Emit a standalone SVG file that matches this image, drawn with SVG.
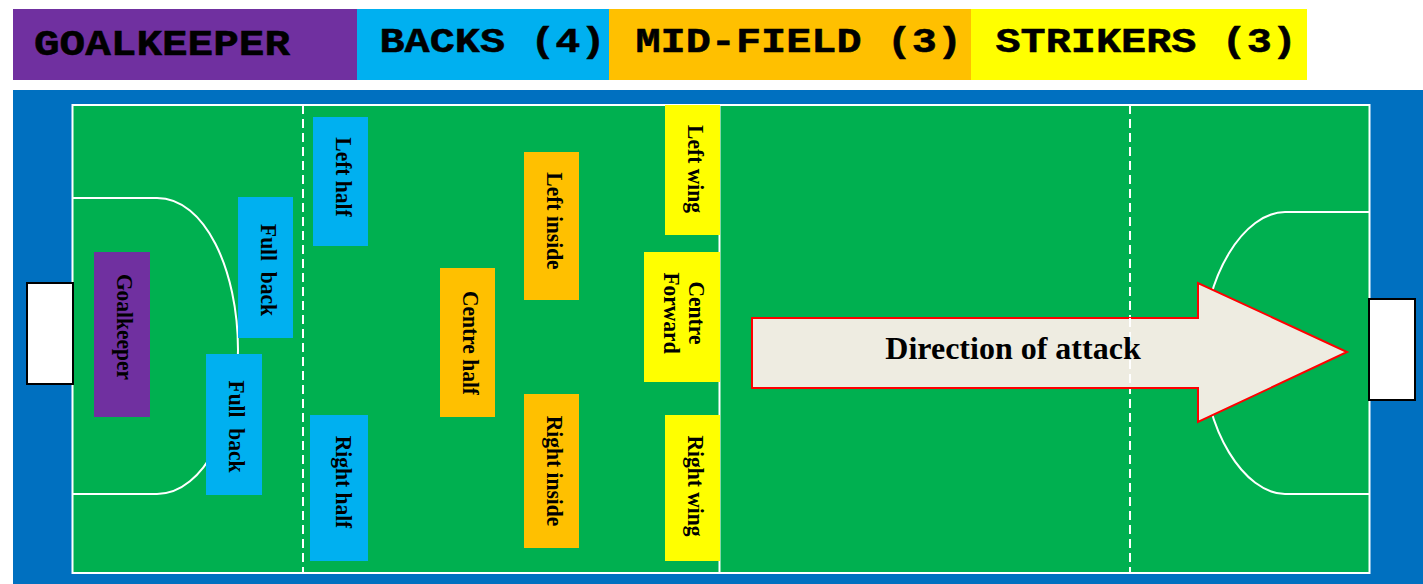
<svg xmlns="http://www.w3.org/2000/svg" width="1423" height="584" viewBox="0 0 1423 584">
<style>
.hd{font-family:"Liberation Mono",monospace;font-weight:bold;font-size:36px;fill:#000;stroke:#000;stroke-width:.5px}
.lb{font-family:"Liberation Serif",serif;font-weight:bold;font-size:21.5px;fill:#000;text-anchor:middle}
.ln{fill:none;stroke:#fff;stroke-width:2}
.ds{fill:none;stroke:#fff;stroke-width:2;stroke-dasharray:9 5}
.goal{fill:#fff;stroke:#000;stroke-width:2}
.gk{fill:#7030a0}.bk{fill:#00b0f0}.mf{fill:#ffc000}.st{fill:#ff0}
</style>
<rect width="1423" height="584" fill="#fff"/>
<g id="legend">
<rect class="gk" x="13" y="9" width="344" height="71"/>
<rect class="bk" x="357" y="9" width="252" height="71"/>
<rect class="mf" x="609" y="9" width="362" height="71"/>
<rect class="st" x="971" y="9" width="336" height="71"/>
<text class="hd" transform="translate(34,55) scale(1.185,1)">GOALKEEPER</text>
<text class="hd" transform="translate(379.500,52) scale(1.163,1)">BACKS (4)</text>
<text class="hd" transform="translate(635.500,52) scale(1.163,1)">MID-FIELD (3)</text>
<text class="hd" transform="translate(995.500,52) scale(1.163,1)">STRIKERS (3)</text>
</g>
<g id="pitch">
<rect x="13" y="90" width="1410" height="494" fill="#0070c0"/>
<rect x="72.500" y="105" width="1297" height="468" fill="#00b050" stroke="#fff" stroke-width="2"/>
<path class="ds" d="M303 105V573M1130 105V573"/>
<path class="ln" d="M719.500 105V573"/>
<path class="ln" d="M73 198H157C205 198 238 270 238 350C238 420 205 494 157 494H73"/>
<path class="ln" d="M1370 212H1285C1245 212 1203 275 1203 353C1203 430 1245 494 1285 494H1370"/>
</g>
<g id="goal-left"><rect class="goal" x="27" y="283" width="46" height="101"/></g>
<g id="goal-right"><rect class="goal" x="1369" y="299" width="46" height="101"/></g>
<g id="goalkeeper"><rect class="gk" x="94" y="252" width="56" height="165"/><text class="lb" transform="translate(117,327) rotate(90) scale(1,1.1)">Goalkeeper</text></g>
<g id="full-back-1"><rect class="bk" x="238" y="197" width="55" height="141"/><text class="lb" transform="translate(260.500,270) rotate(90) scale(1,1.1)" xml:space="preserve">Full  back</text></g>
<g id="full-back-2"><rect class="bk" x="206" y="354" width="56" height="141"/><text class="lb" transform="translate(229,426.500) rotate(90) scale(1,1.1)" xml:space="preserve">Full  back</text></g>
<g id="left-half"><rect class="bk" x="313" y="117" width="55" height="129"/><text class="lb" transform="translate(336,177) rotate(90) scale(1,1.1)">Left half</text></g>
<g id="right-half"><rect class="bk" x="310" y="415" width="58" height="146"/><text class="lb" transform="translate(336,482) rotate(90) scale(1,1.1)">Right half</text></g>
<g id="centre-half"><rect class="mf" x="440" y="268" width="55" height="149"/><text class="lb" transform="translate(463,343) rotate(90) scale(1,1.1)">Centre half</text></g>
<g id="left-inside"><rect class="mf" x="524" y="152" width="55" height="148"/><text class="lb" transform="translate(547,221) rotate(90) scale(1,1.1)">Left inside</text></g>
<g id="right-inside"><rect class="mf" x="524" y="394" width="55" height="154"/><text class="lb" transform="translate(547,471) rotate(90) scale(1,1.1)">Right inside</text></g>
<g id="left-wing"><rect class="st" x="665" y="105" width="55" height="130"/><text class="lb" transform="translate(688,169) rotate(90) scale(1,1.1)">Left wing</text></g>
<g id="centre-forward"><rect class="st" x="644" y="252" width="76" height="130"/><text class="lb" transform="translate(688.500,313) rotate(90) scale(1,1.1)">Centre</text><text class="lb" transform="translate(663.500,313) rotate(90) scale(1,1.1)">Forward</text></g>
<g id="right-wing"><rect class="st" x="665" y="415" width="55" height="146"/><text class="lb" transform="translate(688,486) rotate(90) scale(1,1.1)">Right wing</text></g>
<g id="attack"><path d="M752 318H1198V283L1347 352L1198 422V388H752Z" fill="#eeece1" stroke="#f00" stroke-width="2"/>
<path d="M1130 318V388" stroke="#fff" stroke-width="2" stroke-dasharray="9 5" fill="none"/>
<text x="1013" y="359" font-family="Liberation Serif, serif" font-weight="bold" font-size="32" text-anchor="middle" fill="#000">Direction of attack</text></g>
</svg>
